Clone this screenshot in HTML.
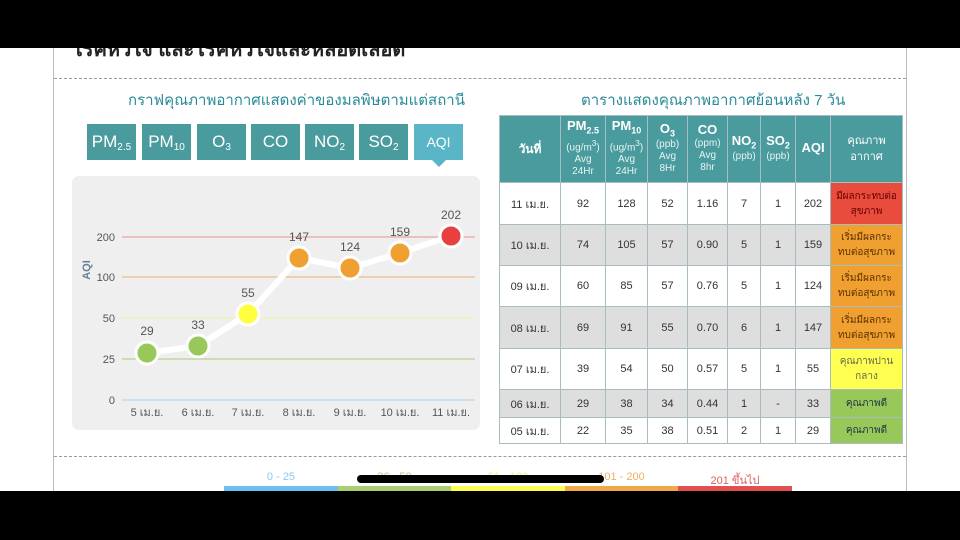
<!DOCTYPE html>
<html><head><meta charset="utf-8"><style>
*{margin:0;padding:0;box-sizing:border-box}
body{width:960px;height:540px;position:relative;overflow:hidden;background:#fff;font-family:"Liberation Sans","Noto Sans CJK SC",sans-serif}
.a{position:absolute}
.tab{position:absolute;top:124px;height:36px;width:49px;background:#4a9b9e;color:#fff;font-size:17px;text-align:center;line-height:36px}
.tab sub{font-size:10px;vertical-align:-3px}
table{border-collapse:collapse;position:absolute;left:499px;top:115px;width:404px;font-size:11px;color:#333}
td,th{border:1px solid #a9bcc0;text-align:center}
th{background:#4a9b9e;color:#e8f4f4;font-size:10px;line-height:12px;font-weight:normal}
th b{font-size:13px;color:#fff}
th sub{font-size:9px}
tr.g td{background:#dedede}
.r{background:#e84c3d!important;color:#600;font-size:10px}
.o{background:#f0a030!important;color:#5a3000;font-size:10px}
.y{background:#ffff50!important;color:#665;font-size:10px}
.gr{background:#98c85a!important;color:#234;font-size:10px}
</style></head><body>
<div class="a" style="left:53px;top:0;width:1px;height:540px;background:#bbb"></div>
<div class="a" style="left:906px;top:0;width:1px;height:540px;background:#bbb"></div>
<div class="a" style="left:72px;top:33px;font-size:20px;font-weight:bold;color:#222">โรคหัวใจ และโรคหัวใจและหลอดเลือด</div>
<div class="a" style="left:0;top:0;width:960px;height:48px;background:#000"></div>
<div class="a" style="left:54px;top:78px;width:852px;border-top:1px dashed #999"></div>
<div class="a" style="left:128px;top:88px;font-size:15px;color:#2a8a99">กราฟคุณภาพอากาศแสดงค่าของมลพิษตามแต่สถานี</div>
<div class="a" style="left:581px;top:88px;font-size:15px;color:#2a8a99">ตารางแสดงคุณภาพอากาศย้อนหลัง 7 วัน</div>
<div class="tab" style="left:87px">PM<sub>2.5</sub></div>
<div class="tab" style="left:142px">PM<sub>10</sub></div>
<div class="tab" style="left:197px">O<sub>3</sub></div>
<div class="tab" style="left:251px">CO</div>
<div class="tab" style="left:305px">NO<sub>2</sub></div>
<div class="tab" style="left:359px">SO<sub>2</sub></div>
<div class="tab" style="left:414px;background:#5ab6c6;font-size:14px">AQI</div>
<div class="a" style="left:432px;top:160px;border-left:7px solid transparent;border-right:7px solid transparent;border-top:7px solid #5ab6c6"></div>
<svg class="a" style="left:0;top:0" width="960" height="540">
<rect x="72" y="176" width="408" height="254" rx="7" fill="#efefef"/>
<g stroke-width="1"><line x1="122" x2="475" y1="237" y2="237" stroke="#e89090"/>
<line x1="122" x2="475" y1="277" y2="277" stroke="#e8b070"/>
<line x1="122" x2="475" y1="318" y2="318" stroke="#f0f0a0"/>
<line x1="122" x2="475" y1="359" y2="359" stroke="#a8c878"/>
<line x1="122" x2="475" y1="400" y2="400" stroke="#a8d0f0"/></g>
<g font-size="11" fill="#555" text-anchor="end" font-family="Liberation Sans"><text x="115" y="241">200</text><text x="115" y="281">100</text><text x="115" y="322">50</text><text x="115" y="363">25</text><text x="115" y="404">0</text></g>
<text x="90" y="270" font-size="11" font-weight="bold" fill="#6a7f99" transform="rotate(-90 90 270)" text-anchor="middle">AQI</text>
<g font-size="11" fill="#555" text-anchor="middle"><text x="147" y="416">5 เม.ย.</text><text x="198" y="416">6 เม.ย.</text><text x="248" y="416">7 เม.ย.</text><text x="299" y="416">8 เม.ย.</text><text x="350" y="416">9 เม.ย.</text><text x="400" y="416">10 เม.ย.</text><text x="451" y="416">11 เม.ย.</text></g>
<polyline points="147,353 198,346 248,314 299,258 350,268 400,253 451,236" fill="none" stroke="#fff" stroke-width="6"/>
<g stroke="#fff" stroke-width="3"><circle cx="147" cy="353" r="11" fill="#98c85a"/><circle cx="198" cy="346" r="11" fill="#98c85a"/><circle cx="248" cy="314" r="11" fill="#ffff40"/><circle cx="299" cy="258" r="11" fill="#f0a030"/><circle cx="350" cy="268" r="11" fill="#f0a030"/><circle cx="400" cy="253" r="11" fill="#f0a030"/><circle cx="451" cy="236" r="11" fill="#e84040"/></g>
<g font-size="12" fill="#555" text-anchor="middle"><text x="147" y="335">29</text><text x="198" y="329">33</text><text x="248" y="297">55</text><text x="299" y="241">147</text><text x="350" y="251">124</text><text x="400" y="236">159</text><text x="451" y="219">202</text></g>
</svg>
<table>
<tr style="height:67px"><th style="width:61px;font-size:12px;font-weight:bold;color:#fff">วันที่</th><th style="width:45px"><b>PM<sub>2.5</sub></b><br>(ug/m<sup>3</sup>)<br>Avg<br>24Hr</th><th style="width:42px"><b>PM<sub>10</sub></b><br>(ug/m<sup>3</sup>)<br>Avg<br>24Hr</th><th style="width:40px"><b>O<sub>3</sub></b><br>(ppb)<br>Avg<br>8Hr</th><th style="width:40px"><b>CO</b><br>(ppm)<br>Avg<br>8hr</th><th style="width:33px"><b>NO<sub>2</sub></b><br>(ppb)</th><th style="width:35px"><b>SO<sub>2</sub></b><br>(ppb)</th><th style="width:35px"><b>AQI</b></th><th style="font-size:11px;line-height:16px;color:#fff">คุณภาพ<br>อากาศ</th></tr>
<tr style="height:42px"><td>11 เม.ย.</td><td>92</td><td>128</td><td>52</td><td>1.16</td><td>7</td><td>1</td><td>202</td><td class="r">มีผลกระทบต่อ<br>สุขภาพ</td></tr>
<tr class="g" style="height:41px"><td>10 เม.ย.</td><td>74</td><td>105</td><td>57</td><td>0.90</td><td>5</td><td>1</td><td>159</td><td class="o">เริ่มมีผลกระ<br>ทบต่อสุขภาพ</td></tr>
<tr style="height:41px"><td>09 เม.ย.</td><td>60</td><td>85</td><td>57</td><td>0.76</td><td>5</td><td>1</td><td>124</td><td class="o">เริ่มมีผลกระ<br>ทบต่อสุขภาพ</td></tr>
<tr class="g" style="height:42px"><td>08 เม.ย.</td><td>69</td><td>91</td><td>55</td><td>0.70</td><td>6</td><td>1</td><td>147</td><td class="o">เริ่มมีผลกระ<br>ทบต่อสุขภาพ</td></tr>
<tr style="height:41px"><td>07 เม.ย.</td><td>39</td><td>54</td><td>50</td><td>0.57</td><td>5</td><td>1</td><td>55</td><td class="y">คุณภาพปาน<br>กลาง</td></tr>
<tr class="g" style="height:28px"><td>06 เม.ย.</td><td>29</td><td>38</td><td>34</td><td>0.44</td><td>1</td><td>-</td><td>33</td><td class="gr">คุณภาพดี</td></tr>
<tr style="height:26px"><td>05 เม.ย.</td><td>22</td><td>35</td><td>38</td><td>0.51</td><td>2</td><td>1</td><td>29</td><td class="gr">คุณภาพดี</td></tr>
</table>
<div class="a" style="left:54px;top:456px;width:852px;border-top:1px dashed #999"></div>
<div class="a" style="top:471px;left:224px;width:568px;font-size:11px;display:flex">
<span style="width:114px;text-align:center;color:#8cc8f0">0 - 25</span><span style="width:113px;text-align:center;color:#a8d080">26 - 50</span><span style="width:114px;text-align:center;color:#f0f070">51 - 100</span><span style="width:113px;text-align:center;color:#f0b060">101 - 200</span><span style="width:114px;text-align:center;color:#e06060">201 ขึ้นไป</span></div>
<div class="a" style="top:486px;left:224px;height:6px;width:114px;background:#6cc0f0"></div>
<div class="a" style="top:486px;left:338px;height:6px;width:113px;background:#a8d070"></div>
<div class="a" style="top:486px;left:451px;height:6px;width:114px;background:#ffff50"></div>
<div class="a" style="top:486px;left:565px;height:6px;width:113px;background:#f0a848"></div>
<div class="a" style="top:486px;left:678px;height:6px;width:114px;background:#e05050"></div>
<div class="a" style="top:475px;left:357px;height:8px;width:247px;background:#000;border-radius:4px"></div>
<div class="a" style="left:0;top:491px;width:960px;height:49px;background:#000"></div>
</body></html>
